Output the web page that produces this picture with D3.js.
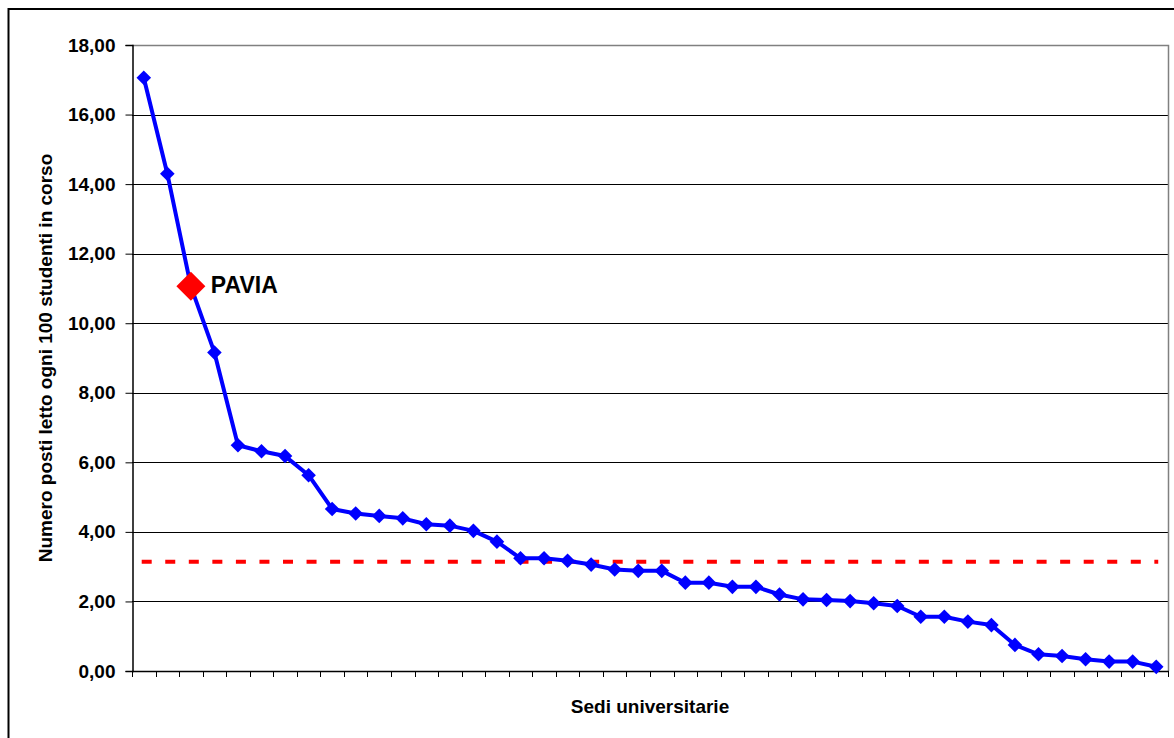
<!DOCTYPE html>
<html>
<head>
<meta charset="utf-8">
<script src="https://cdn.jsdelivr.net/npm/d3@7"></script>
<style>
  html, body { margin: 0; padding: 0; background: #fff; }
  svg { display: block; font-family: Arial, "Liberation Sans", sans-serif; }
</style>
</head>
<body>
<svg id="chart" width="1174" height="738"></svg>
<script>
// Posti letto ogni 100 studenti in corso, sedi ordinate in modo decrescente
const sedi = d3.range(1, 45).map(i => "Sede " + i);
const postiLetto = [
  17.06, 14.30, 11.06, 9.16, 6.49, 6.32, 6.18, 5.63, 4.66, 4.53,
  4.46, 4.39, 4.22, 4.18, 4.03, 3.72, 3.24, 3.24, 3.17, 3.06,
  2.92, 2.88, 2.88, 2.54, 2.54, 2.42, 2.42, 2.20, 2.06, 2.04,
  2.01, 1.95, 1.87, 1.56, 1.56, 1.42, 1.32, 0.75, 0.48, 0.43,
  0.34, 0.27, 0.27, 0.12
];
const sedeEvidenziata = "PAVIA";
const indiceEvidenziato = 2;
const mediaNazionale = 3.14;
const yTicks = [0, 2, 4, 6, 8, 10, 12, 14, 16, 18];

const titoloY = "Numero posti letto ogni 100 studenti in corso";
const titoloX = "Sedi universitarie";

const svg = d3.select("#chart");
const pLeft = 132, pRight = 1168, pTop = 45, pBottom = 671;

const x = d3.scaleBand().domain(sedi).range([pLeft, pRight]).padding(0);
const y = d3.scaleLinear().domain([0, 18]).range([pBottom, pTop]);

const it = d3.formatLocale({ decimal: ",", thousands: ".", grouping: [3], currency: ["€", ""] });
const fmt = it.format(".2f");

// outer frame (continues past the right and bottom edges)
svg.append("rect")
  .attr("x", 8.5).attr("y", 9).attr("width", 1400).attr("height", 1000)
  .attr("fill", "none").attr("stroke", "#000").attr("stroke-width", 2);

// horizontal gridlines
svg.append("g")
  .selectAll("line")
  .data(yTicks.filter(v => v > 0 && v < 18))
  .join("line")
  .attr("x1", pLeft).attr("x2", pRight)
  .attr("y1", d => Math.round(y(d)) + 0.5).attr("y2", d => Math.round(y(d)) + 0.5)
  .attr("stroke", "#000").attr("stroke-width", 1);

// plot area border (top and right)
svg.append("path")
  .attr("d", `M${pLeft},${pTop + 0.5}H${pRight + 0.5}V${pBottom}`)
  .attr("fill", "none").attr("stroke", "#808080").attr("stroke-width", 1.5);

// y axis
const yAxis = d3.axisLeft(y).tickValues(yTicks).tickFormat(fmt).tickSize(7).tickPadding(10);
const gy = svg.append("g").attr("transform", `translate(${pLeft + 0.5},0)`).call(yAxis);
gy.select(".domain").attr("stroke", "#000").attr("stroke-width", 1.5);
gy.selectAll(".tick line").attr("stroke", "#000");
gy.selectAll(".tick text")
  .attr("font-size", 19).attr("font-weight", "bold").attr("fill", "#000")
  .attr("font-family", "Arial, 'Liberation Sans', sans-serif");

// x axis: tick marks at category boundaries, no labels
svg.append("line")
  .attr("x1", pLeft).attr("x2", pRight + 1)
  .attr("y1", pBottom + 0.5).attr("y2", pBottom + 0.5)
  .attr("stroke", "#000").attr("stroke-width", 1.5);
svg.append("g")
  .selectAll("line")
  .data(sedi.concat([null]))
  .join("line")
  .attr("x1", (d, i) => Math.round(pLeft + i * x.step()) + 0.5)
  .attr("x2", (d, i) => Math.round(pLeft + i * x.step()) + 0.5)
  .attr("y1", pBottom).attr("y2", pBottom + 6)
  .attr("stroke", "#000").attr("stroke-width", 1);

// average reference line
svg.append("line")
  .attr("x1", pLeft + 9.7).attr("x2", x(sedi[sedi.length - 1]) + x.bandwidth() / 2 + 2)
  .attr("y1", y(mediaNazionale)).attr("y2", y(mediaNazionale))
  .attr("stroke", "#ff0000").attr("stroke-width", 4)
  .attr("stroke-dasharray", "10,13.55");

// series line
const cx = d => x(d) + x.bandwidth() / 2;
const punti = sedi.map((s, i) => ({ sede: s, valore: postiLetto[i], i }));

svg.append("path")
  .datum(punti)
  .attr("d", d3.line().x(d => cx(d.sede)).y(d => y(d.valore)))
  .attr("fill", "none").attr("stroke", "#0000ff").attr("stroke-width", 4)
  .attr("stroke-linejoin", "round");

// diamond markers
const diamante = r => `M0,${-r}L${r},0L0,${r}L${-r},0Z`;
svg.append("g")
  .selectAll("path")
  .data(punti.filter(d => d.i !== indiceEvidenziato))
  .join("path")
  .attr("transform", d => `translate(${cx(d.sede)},${y(d.valore)})`)
  .attr("d", diamante(7.3))
  .attr("fill", "#0000ff");

// highlighted university
const ev = punti[indiceEvidenziato];
svg.append("path")
  .attr("transform", `translate(${cx(ev.sede)},${y(ev.valore)})`)
  .attr("d", diamante(14.5))
  .attr("fill", "#ff0000");
svg.append("text")
  .attr("x", cx(ev.sede) + 20).attr("y", y(ev.valore) + 6.5)
  .attr("font-size", 23).attr("font-weight", "bold").attr("fill", "#000")
  .text(sedeEvidenziata);

// axis titles
svg.append("text")
  .attr("transform", `translate(52,${(pTop + pBottom) / 2}) rotate(-90)`)
  .attr("text-anchor", "middle")
  .attr("font-size", 19).attr("font-weight", "bold").attr("fill", "#000")
  .text(titoloY);

svg.append("text")
  .attr("x", (pLeft + pRight) / 2).attr("y", 713)
  .attr("text-anchor", "middle")
  .attr("font-size", 19).attr("font-weight", "bold").attr("fill", "#000")
  .text(titoloX);
</script>
</body>
</html>
